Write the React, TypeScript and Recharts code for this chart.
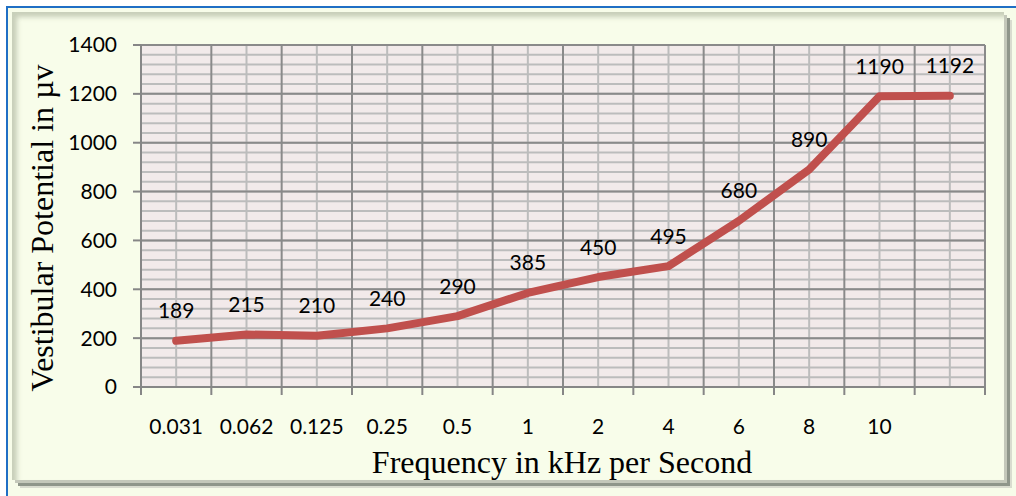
import React from "react";
import {
  LineChart,
  Line,
  XAxis,
  YAxis,
  CartesianGrid,
  LabelList,
} from "recharts";

const categories = ["0.031", "0.062", "0.125", "0.25", "0.5", "1", "2", "4", "6", "8", "10", ""];
const potentials = [189, 215, 210, 240, 290, 385, 450, 495, 680, 890, 1190, 1192];
const yTicks = [0, 200, 400, 600, 800, 1000, 1200, 1400];
const yMinorTicks = Array.from({ length: 36 }, (_, i) => i * 40);

const data = categories.map((label, i) => ({ pos: i + 0.5, label, value: potentials[i] }));
const boundaries = categories.map((_, i) => i).concat(categories.length);
const centers = data.map((d) => d.pos);

const numFont = "Lato, 'Open Sans', sans-serif";
const serif = "'Liberation Serif', 'DejaVu Serif', serif";

const ValueLabel = (props: any) => {
  const { x, y, value } = props;
  return (
    <text x={x} y={y - 31} textAnchor="middle" dominantBaseline="central" fontFamily={numFont} fontSize={21} fill="#000">
      {value}
    </text>
  );
};

export default function App() {
  return (
    <div style={{ position: "absolute", left: 0, top: 0, width: 1016, height: 496, background: "#fff", overflow: "hidden" }}>
      {/* frame: blue edge top/left, bevelled panel */}
      <div
        style={{
          position: "absolute",
          left: 6,
          top: 6,
          width: 1010,
          height: 490,
          borderTop: "2px solid #1f6fc5",
          borderLeft: "2px solid #1f6fc5",
          background: "#f7fce9",
          boxSizing: "border-box",
        }}
      />
      <div
        style={{
          position: "absolute",
          left: 12,
          top: 12,
          width: 992,
          height: 468,
          background: "#f8fdea",
          boxShadow: "inset 5px 5px 5px rgba(110,120,95,0.35), 3px 3px 0 #c4c8ba, 6px 6px 0 #8f968a, 8px 8px 0 #d9dccf",
        }}
      />

      <div style={{ position: "absolute", left: 0, top: 0 }}>
        <LineChart width={1016} height={496} data={data} margin={{ top: 45, right: 31, left: 0, bottom: 59 }}>
          <XAxis
            xAxisId="x0"
            type="number"
            dataKey="pos"
            domain={[0, 12]}
            ticks={boundaries}
            interval={0}
            tickFormatter={() => ""}
            tickSize={8}
            height={10}
            stroke="#868686"
            axisLine={{ stroke: "#868686", strokeWidth: 2 }}
            tickLine={{ stroke: "#868686", strokeWidth: 2 }}
          />
          <XAxis
            xAxisId="x1"
            type="number"
            dataKey="pos"
            domain={[0, 12]}
            ticks={centers}
            interval={0}
            tickFormatter={(v: number) => categories[Math.floor(v)]}
            tickSize={0}
            tickMargin={22}
            height={40}
            axisLine={false}
            tickLine={false}
            tick={{ fill: "#000", fontSize: 21, fontFamily: numFont }}
          />
          <YAxis
            yAxisId="y0"
            dataKey="value"
            domain={[0, 1400]}
            ticks={yTicks}
            interval={0}
            width={140}
            tickSize={8}
            tickMargin={16}
            axisLine={{ stroke: "#868686", strokeWidth: 2 }}
            tickLine={{ stroke: "#868686", strokeWidth: 2 }}
            tick={{ fill: "#000", fontSize: 21, fontFamily: numFont }}
          />
          <YAxis
            yAxisId="y1"
            type="number"
            dataKey="value"
            domain={[0, 1400]}
            ticks={yMinorTicks}
            interval={0}
            width={1}
            tickFormatter={() => ""}
            tickSize={0}
            axisLine={false}
            tickLine={false}
          />

          <CartesianGrid
            xAxisId="x1"
            yAxisId="y1"
            stroke="#bcbcbc"
            strokeWidth={2}
            fill="#f2eaea"
            fillOpacity={1}
          />
          <CartesianGrid xAxisId="x0" yAxisId="y0" stroke="#8a8a8a" strokeWidth={2} />

          <Line
            xAxisId="x0"
            yAxisId="y0"
            type="linear"
            dataKey="value"
            stroke="#c0504d"
            strokeWidth={8}
            strokeLinecap="round"
            strokeLinejoin="round"
            dot={false}
            activeDot={false}
            isAnimationActive={false}
          >
            <LabelList dataKey="value" content={ValueLabel} />
          </Line>
        </LineChart>
      </div>

      <div
        style={{
          position: "absolute",
          left: 42,
          top: 228,
          transform: "translate(-50%, -50%) rotate(-90deg)",
          whiteSpace: "nowrap",
          fontFamily: serif,
          fontSize: 32,
          color: "#000",
        }}
      >
        Vestibular Potential in µv
      </div>
      <div
        style={{
          position: "absolute",
          left: 562,
          top: 462,
          transform: "translate(-50%, -50%)",
          whiteSpace: "nowrap",
          fontFamily: serif,
          fontSize: 32,
          color: "#000",
        }}
      >
        Frequency in kHz per Second
      </div>
    </div>
  );
}
